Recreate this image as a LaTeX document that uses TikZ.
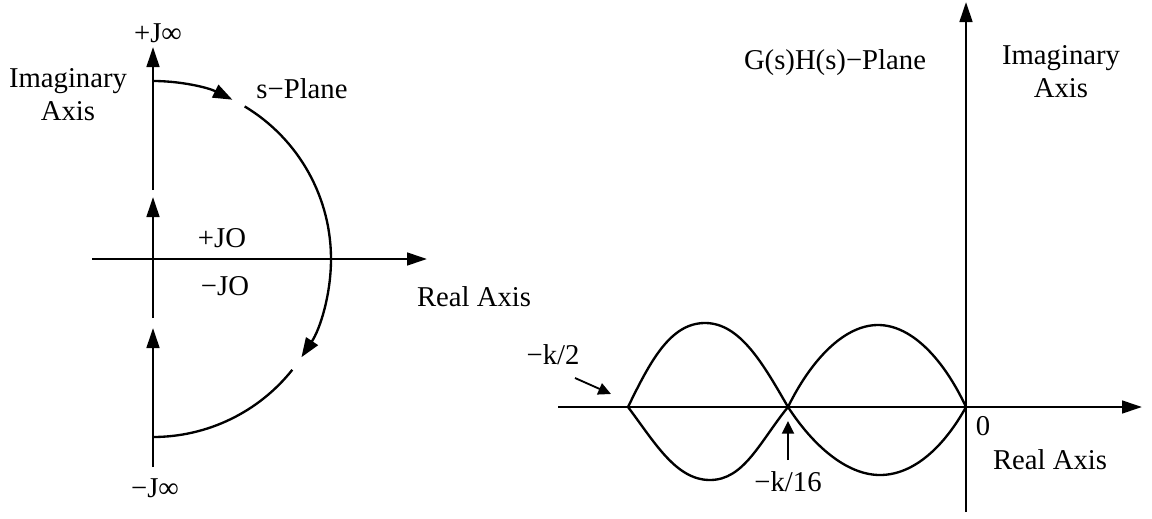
\documentclass[tikz,border=0pt]{standalone}
\usepackage{fontspec}
\setmainfont{Liberation Serif}
\usetikzlibrary{arrows.meta, positioning, calc}

\begin{document}
\begin{tikzpicture}[
    x=0.03cm, y=0.03cm,
    % Global Styles
    font=\fontsize{24.5}{28}\selectfont,
    % Line Styles
    axis/.style={
        line width=2.2pt,
        -{Triangle[length=0.6cm, width=0.38cm]}
    },
    contour/.style={
        line width=2pt
    },
    contourarrow/.style={
        line width=2pt,
        -{Triangle[length=0.58cm, width=0.42cm]}
    },
    pointer/.style={
        line width=1.6pt,
        -{Triangle[length=0.38cm, width=0.36cm]}
    },
    lbl/.style={
        inner sep=0pt,
        align=center
    }
]
    \useasboundingbox (0,0) rectangle (1152,518);

    % --- s-Plane ---

    % Origin and axis ends
    \coordinate (sO) at (153,259);
    \coordinate (sBot) at (153,51);
    \coordinate (sLow) at (153,190);
    \coordinate (sMidA) at (153,200);
    \coordinate (sMidB) at (153,321);
    \coordinate (sUp) at (153,328);
    \coordinate (sTop) at (153,471);
    \coordinate (sLeft) at (92,259);
    \coordinate (sRight) at (427,259);

    % Axes
    \draw[axis] (sLeft) -- (sRight);
    \draw[axis] (sBot) -- (sLow);
    \draw[axis] (sMidA) -- (sMidB);
    \draw[axis] (sUp) -- (sTop);

    % Nyquist contour (semicircle of radius 178)
    \draw[contourarrow] ($(sO)+(90:178)$) arc[start angle=90, end angle=63.5, radius=178];
    \draw[contourarrow] ($(sO)+(59:178)$) arc[start angle=59, end angle=-33.5, radius=178];
    \draw[contour] ($(sO)+(-38.5:178)$) arc[start angle=-38.5, end angle=-90, radius=178];

    % Labels
    \node[lbl] (jinf) at (158,485) {+J∞};
    \node[lbl] (mjinf) at (155,30) {−J∞};
    \node[lbl] (simag) at (68,423) {Imaginary\\Axis};
    \node[lbl] (splane) at (302,429) {s−Plane};
    \node[lbl] (pjo) at (222,280) {+JO};
    \node[lbl] (mjo) at (225,232) {−JO};
    \node[lbl] (sreal) at (474,221) {Real Axis};

    % --- G(s)H(s)-Plane ---

    \coordinate (gO) at (966,111);
    \coordinate (gBot) at (966,6);
    \coordinate (gTop) at (966,516);
    \coordinate (gLeft) at (558,111);
    \coordinate (gRight) at (1142,111);
    \coordinate (cusp) at (628,111);
    \coordinate (cross) at (788,111);

    % Axes
    \draw[axis] (gLeft) -- (gRight);
    \draw[axis] (gBot) -- (gTop);

    % Polar plot (two crossing curves)
    \draw[contour] (cusp) .. controls +(64:50) and +(180:35) .. (705,195)
        .. controls +(0:35) and +(120:50) .. (cross)
        .. controls +(-57:45) and +(180:34) .. (880,43)
        .. controls +(0:34) and +(-119:45) .. (gO);
    \draw[contour] (cusp) .. controls +(-53:45) and +(180:34) .. (710,38)
        .. controls +(0:34) and +(-129:45) .. (cross)
        .. controls +(64:50) and +(180:35) .. (878,193)
        .. controls +(0:35) and +(115:50) .. (gO);

    % Labels
    \node[lbl] (ghplane) at (835,455) {G(s)H(s)−Plane};
    \node[lbl] (gimag) at (1061,446) {Imaginary\\Axis};
    \node[lbl] (zero) at (983,92) {0};
    \node[lbl] (greal) at (1050,58) {Real Axis};
    \node[lbl] (khalf) at (553,163) {−k/2};
    \node[lbl] (ksix) at (788,36) {−k/16};

    % Pointers
    \coordinate (khalfTail) at (575,140);
    \coordinate (khalfTip) at (611,124);
    \coordinate (ksixTail) at (788,58);
    \coordinate (ksixTip) at (788,97);
    \draw[pointer] (khalfTail) -- (khalfTip);
    \draw[pointer] (ksixTail) -- (ksixTip);

\end{tikzpicture}
\end{document}
